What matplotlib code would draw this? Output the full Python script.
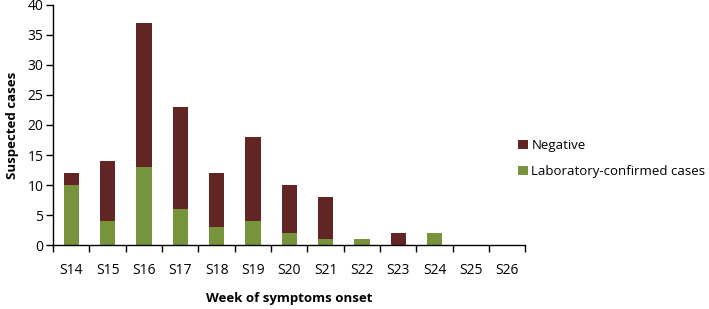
import matplotlib.pyplot as plt
import numpy as np

plt.rcParams['font.family'] = ['Open Sans', 'DejaVu Sans']

weeks = ['S14', 'S15', 'S16', 'S17', 'S18', 'S19', 'S20',
         'S21', 'S22', 'S23', 'S24', 'S25', 'S26']
confirmed = [10, 4, 13, 6, 3, 4, 2, 1, 1, 0, 2, 0, 0]
negative = [2, 10, 24, 17, 9, 14, 8, 7, 0, 2, 0, 0, 0]

green = '#77933C'
red = '#632523'

fig = plt.figure(figsize=(7.09, 3.09), dpi=100)
ax = fig.add_axes([0.075, 0.207, 0.666, 0.777])

x = np.arange(len(weeks))
b1 = ax.bar(x, confirmed, width=0.42, color=green, label='Laboratory-confirmed cases')
b2 = ax.bar(x, negative, width=0.42, bottom=confirmed, color=red, label='Negative')

ax.set_xlim(-0.5, len(weeks) - 0.5)
ax.set_ylim(0, 40)
ax.set_yticks(range(0, 41, 5))

# major ticks at category boundaries, labels at centres
ax.set_xticks(np.arange(-0.5, len(weeks), 1))
ax.set_xticklabels([])
ax.set_xticks(x, minor=True)
ax.set_xticklabels(weeks, minor=True)
ax.tick_params(axis='x', which='minor', length=0, pad=13, labelsize=10)
ax.tick_params(axis='x', which='major', length=5, direction='out', width=1)
ax.tick_params(axis='y', length=5, direction='out', width=1, labelsize=10, pad=2)

for s in ['top', 'right']:
    ax.spines[s].set_visible(False)
for s in ['left', 'bottom']:
    ax.spines[s].set_linewidth(1)
    ax.spines[s].set_color('black')

ax.set_ylabel('Suspected cases', fontsize=9.5, fontweight='bold', labelpad=6)
ax.set_xlabel('Week of symptoms onset', fontsize=9.5, fontweight='bold', labelpad=10)

fig.legend(handles=[b2, b1], loc='center left', bbox_to_anchor=(0.731, 0.487),
           frameon=False, fontsize=9.5, handlelength=0.7, handleheight=0.7,
           handletextpad=0.3, labelspacing=1.0, borderaxespad=0, borderpad=0)

fig.savefig('out.png', dpi=100)
